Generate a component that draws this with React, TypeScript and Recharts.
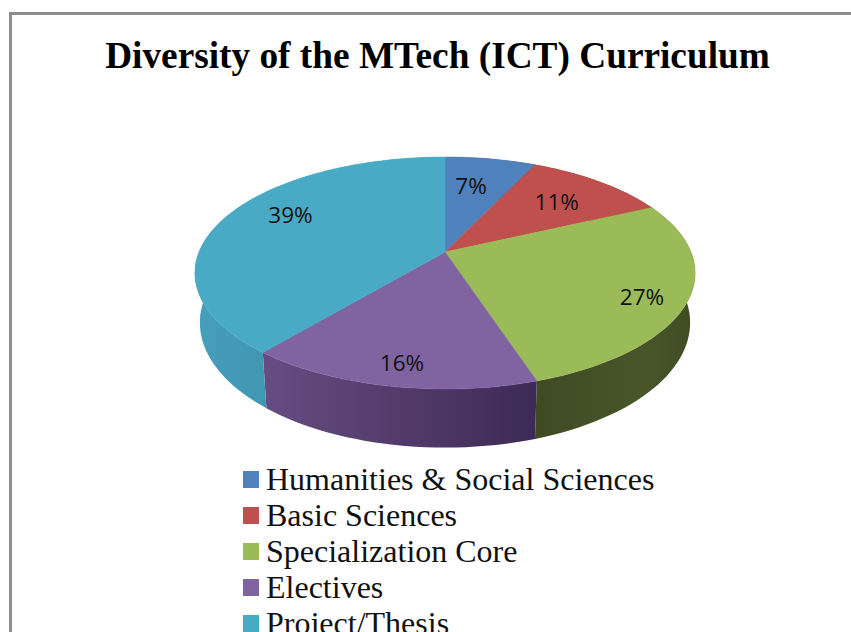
import { PieChart, Pie, Legend } from 'recharts';

const categories = ['Humanities & Social Sciences', 'Basic Sciences', 'Specialization Core', 'Electives', 'Project/Thesis'];
const shares = [7, 11, 27, 16, 39];
const topColors = ['#4f81bd', '#c0504d', '#9bbb59', '#8064a2', '#49aac6'];

// where Excel left each percentage: fraction of radius, angle nudge in degrees
const labelRadius = [0.67, 0.7, 0.835, 0.846, 0.76];
const labelNudge = [2.4, 0, -3.2, 0.7, -8.5];

const data = categories.map((name, i) => ({ name, value: shares[i], fill: topColors[i] }));

const WIDTH = 851;
const HEIGHT = 632;
const CX = 445;
const CY = 252;
const RADIUS = 246;

// perspective of the tilted disc, as fractions of the radius
const PERSPECTIVE = 0.181;
const TILT = 66.6 / 246;
const WALL_DROP = 48;
const WALL_SHRINK = 0.98;

const RAD = Math.PI / 180;

function rimPoint(cx: number, cy: number, r: number, angle: number, scale = 1, wall = false) {
  const u = Math.cos(angle * RAD) * scale;
  const v = Math.sin(angle * RAD) * scale;
  const d = 1 + PERSPECTIVE * v;
  const drop = wall ? WALL_DROP : 0;
  return {
    x: cx + (r * u * (wall ? WALL_SHRINK : 1)) / d,
    y: (cy + drop - r * TILT * v) / d,
  };
}

function arcPoints(props: any, wall: boolean) {
  const { cx, cy, outerRadius, startAngle, endAngle } = props;
  const steps = Math.max(2, Math.ceil(Math.abs(endAngle - startAngle) / 2));
  const pts = [];
  for (let i = 0; i <= steps; i++) {
    const a = startAngle + ((endAngle - startAngle) * i) / steps;
    pts.push(rimPoint(cx, cy, outerRadius, a, 1, wall));
  }
  return pts;
}

const toPath = (pts: { x: number; y: number }[]) =>
  'M' + pts.map((p) => `${p.x.toFixed(1)},${p.y.toFixed(1)}`).join('L') + 'Z';

function TopSlice(props: any) {
  const { cx, cy, fill } = props;
  const d = toPath([{ x: cx, y: cy }, ...arcPoints(props, false)]);
  return <path d={d} fill={fill} stroke={fill} strokeWidth={0.5} />;
}

function WallSlice(props: any) {
  const d = toPath([...arcPoints(props, false), ...arcPoints(props, true).reverse()]);
  return <path d={d} fill={`url(#wall-${props.index})`} />;
}

function SliceLabel(props: any) {
  const { cx, cy, outerRadius, midAngle, index, value } = props;
  const p = rimPoint(cx, cy, outerRadius, midAngle + labelNudge[index], labelRadius[index]);
  return (
    <text x={p.x} y={p.y} textAnchor="middle" dominantBaseline="central" fontFamily="'Open Sans'" fontSize={22.5} fill="#111">
      {value}%
    </text>
  );
}

function LegendList({ payload }: any) {
  // the wall pie is only shading, leave it out of the legend
  const items = (payload || []).filter((item: any) => item.type !== 'none').slice(0, categories.length);
  return (
    <div style={{ fontFamily: "'Liberation Serif'", fontSize: 32, lineHeight: '36px', color: '#111' }}>
      {items.map((item: any) => (
        <div key={item.value} style={{ display: 'flex', alignItems: 'center', whiteSpace: 'nowrap' }}>
          <span style={{ width: 16, height: 17, background: item.color, marginRight: 7 }} />
          {item.value}
        </div>
      ))}
    </div>
  );
}

export default function App() {
  return (
    <div style={{ position: 'absolute', left: 0, top: 0, width: WIDTH, height: HEIGHT, overflow: 'hidden', background: '#fff' }}>
      <div style={{ position: 'absolute', left: 9, top: 12, width: 900, height: 700, border: '3px solid #8c8c8c' }} />
      <div style={{ position: 'absolute', left: 0, top: 0 }}>
        <PieChart width={WIDTH} height={HEIGHT} margin={{ top: 0, right: 0, bottom: 0, left: 0 }}>
          <defs>
            <linearGradient id="wall-0"><stop stopColor="#2f4d70" /></linearGradient>
            <linearGradient id="wall-1"><stop stopColor="#72302e" /></linearGradient>
            <linearGradient id="wall-2" gradientUnits="userSpaceOnUse" x1={530} x2={695} y1={0} y2={0}>
              <stop offset="0" stopColor="#3f4a22" />
              <stop offset="0.7" stopColor="#48562a" />
              <stop offset="1" stopColor="#3f4c22" />
            </linearGradient>
            <linearGradient id="wall-3" gradientUnits="userSpaceOnUse" x1={260} x2={535} y1={0} y2={0}>
              <stop offset="0" stopColor="#674d82" />
              <stop offset="1" stopColor="#3e2a56" />
            </linearGradient>
            <linearGradient id="wall-4" gradientUnits="userSpaceOnUse" x1={195} x2={265} y1={0} y2={0}>
              <stop offset="0" stopColor="#469fbb" />
              <stop offset="1" stopColor="#3f97b2" />
            </linearGradient>
          </defs>
          <text x={437.5} y={68} textAnchor="middle" fontFamily="'Liberation Serif'" fontWeight="bold" fontSize={37.3} fill="#000">
            Diversity of the MTech (ICT) Curriculum
          </text>
          <Pie
            data={data}
            dataKey="value"
            nameKey="name"
            cx={CX}
            cy={CY}
            outerRadius={RADIUS}
            startAngle={90}
            endAngle={-270}
            legendType="none"
            shape={WallSlice}
            stroke="none"
            isAnimationActive={false}
          />
          <Pie
            data={data}
            dataKey="value"
            nameKey="name"
            cx={CX}
            cy={CY}
            outerRadius={RADIUS}
            startAngle={90}
            endAngle={-270}
            shape={TopSlice}
            label={SliceLabel}
            labelLine={false}
            stroke="none"
            isAnimationActive={false}
          />
          <Legend
            content={LegendList}
            layout="vertical"
            verticalAlign="bottom"
            itemSorter={null}
            wrapperStyle={{ left: 243, top: 461, bottom: 'auto', width: 500 }}
          />
        </PieChart>
      </div>
    </div>
  );
}
